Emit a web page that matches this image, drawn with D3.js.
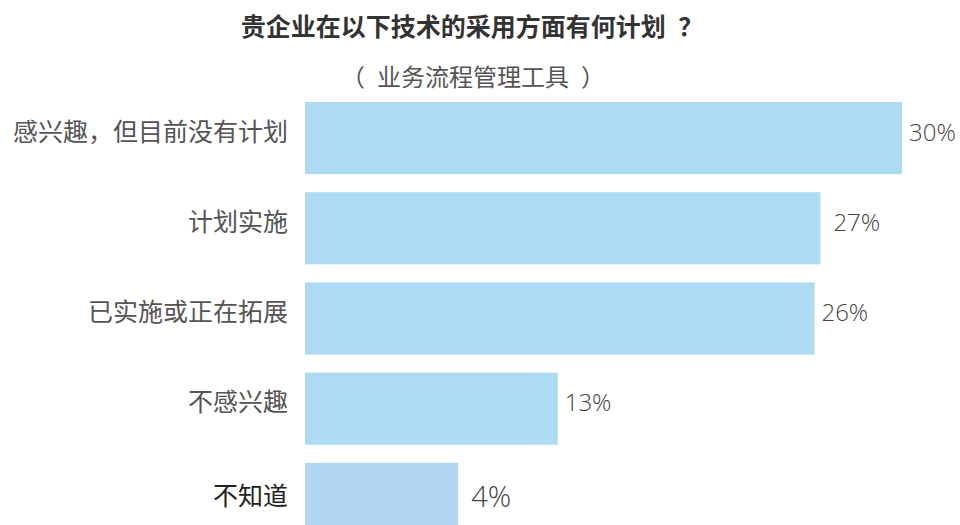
<!DOCTYPE html>
<html>
<head>
<meta charset="utf-8">
<script src="https://cdn.jsdelivr.net/npm/d3@7"></script>
<style>
  body { margin: 0; background: #fff; }
  svg { display: block; }
  text { white-space: pre; }
</style>
</head>
<body>
<div id="chart"></div>
<script>
const WIDTH = 960;
const HEIGHT = 525;
const BAR_LEFT = 305;
const BAR_RIGHT = 902;
const CJK_FONT = "'Noto Sans CJK SC', sans-serif";
const NUM_FONT = "'Open Sans', sans-serif";

const TITLE = "贵企业在以下技术的采用方面有何计划\u2002？";
const SUBTITLE = "（\u2002业务流程管理工具\u2002）";

const categories = ["感兴趣，但目前没有计划", "计划实施", "已实施或正在拓展", "不感兴趣", "不知道"];
// printed labels
const labelValues = [30, 27, 26, 13, 4];
// bar lengths as drawn in the picture (not quite proportional to the labels)
const barValues = [30, 25.9, 25.6, 12.7, 7.7];

const svg = d3.select("#chart")
  .append("svg")
  .attr("width", WIDTH)
  .attr("height", HEIGHT);

const x = d3.scaleLinear()
  .domain([0, d3.max(barValues)])
  .range([BAR_LEFT, BAR_RIGHT]);

const y = d3.scaleBand()
  .domain(categories)
  .range([93, 544])
  .paddingInner(0.2)
  .paddingOuter(0.1);

svg.append("text")
  .attr("x", 472)
  .attr("y", 36)
  .attr("text-anchor", "middle")
  .style("font-family", CJK_FONT)
  .style("font-size", "25px")
  .style("font-weight", "bold")
  .style("fill", "#333")
  .text(TITLE);

svg.append("text")
  .attr("x", 473)
  .attr("y", 86)
  .attr("text-anchor", "middle")
  .style("font-family", CJK_FONT)
  .style("font-size", "24px")
  .style("fill", "#555")
  .text(SUBTITLE);

svg.selectAll("rect.bar")
  .data(categories)
  .enter()
  .append("rect")
  .attr("class", "bar")
  .attr("x", x(0))
  .attr("y", d => y(d))
  .attr("width", (d, i) => x(barValues[i]) - x(0))
  .attr("height", y.bandwidth())
  .style("fill", (d, i) => i === categories.length - 1 ? "#b3d7f3" : "#aedbf4");

svg.selectAll("text.cat")
  .data(categories)
  .enter()
  .append("text")
  .attr("class", "cat")
  .attr("x", 288)
  .attr("y", (d, i) => y(d) + y.bandwidth() / 2 + (i === 4 ? -3 : -6))
  .attr("dy", "0.35em")
  .attr("text-anchor", "end")
  .style("font-family", CJK_FONT)
  .style("font-size", "25px")
  .style("fill", (d, i) => i === categories.length - 1 ? "#222" : "#555")
  .text(d => d);

svg.selectAll("text.val")
  .data(categories)
  .enter()
  .append("text")
  .attr("class", "val")
  .attr("x", (d, i) => x(barValues[i]) + (i === 1 || i === 4 ? 13 : 7))
  .attr("y", (d, i) => y(d) + y.bandwidth() / 2 + (i === 4 ? -2 : -6))
  .attr("dy", "0.35em")
  .style("font-family", NUM_FONT)
  .style("font-size", (d, i) => i === 4 ? "29px" : "24px")
  .style("font-weight", 300)
  .style("fill", "#444")
  .text((d, i) => labelValues[i] + "%");
</script>
</body>
</html>
